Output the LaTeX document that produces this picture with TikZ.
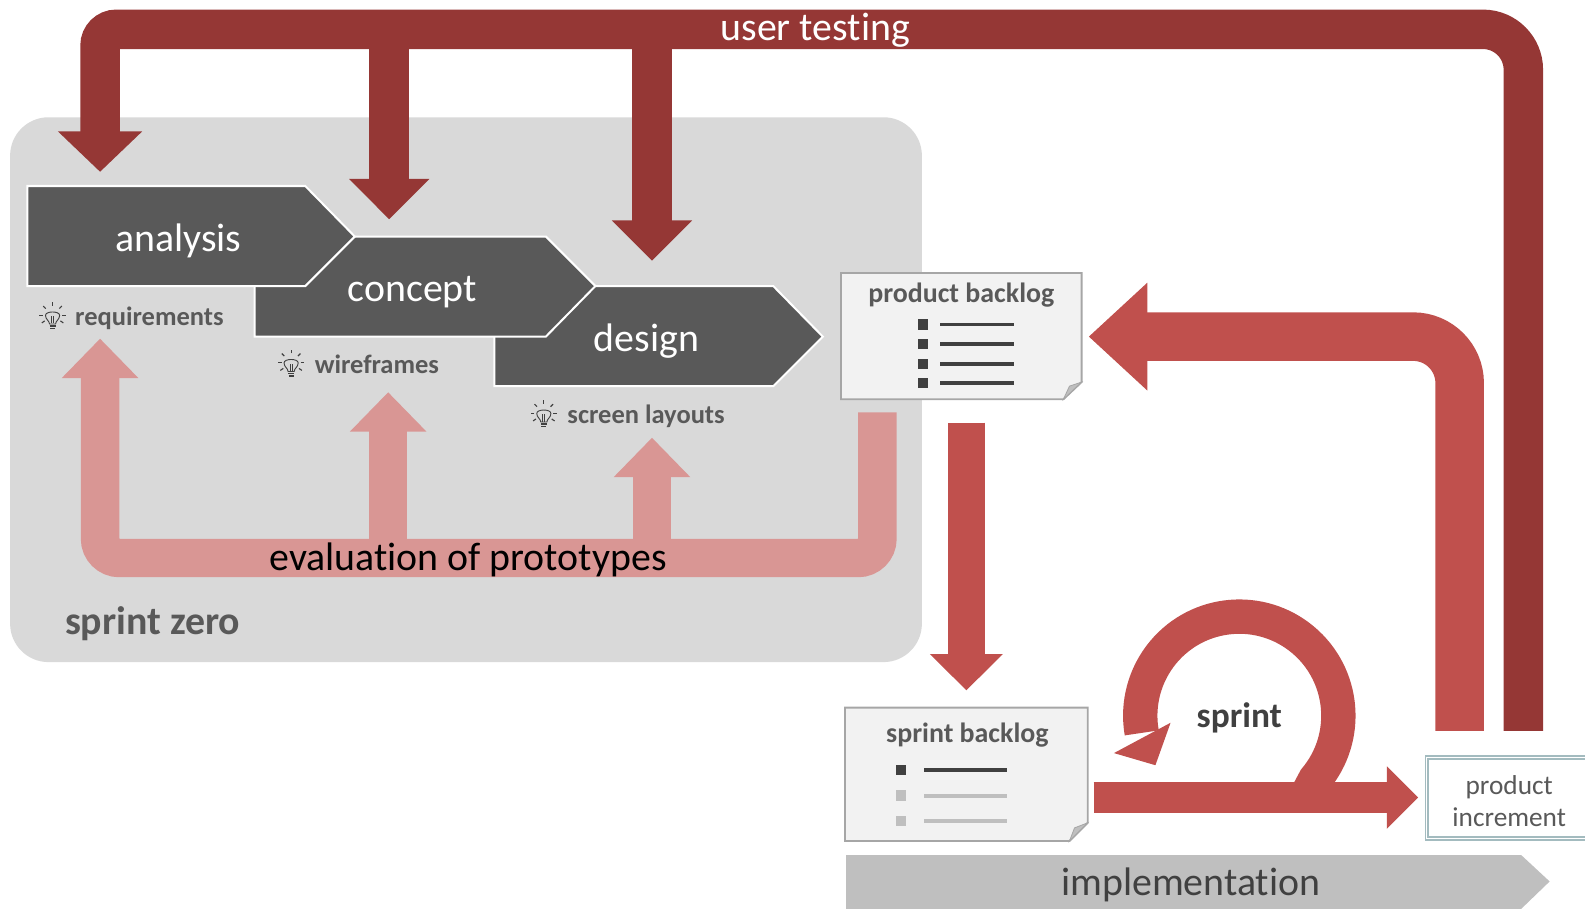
\documentclass[tikz,border=0pt]{standalone}
\usepackage{fontspec}
\setmainfont[Ligatures=NoCommon]{Carlito}
\usetikzlibrary{arrows.meta,calc}
\definecolor{dkred}{HTML}{953735}
\definecolor{midred}{HTML}{C0504D}
\definecolor{pinkred}{HTML}{D99694}
\definecolor{panelgray}{HTML}{D9D9D9}
\definecolor{chev}{HTML}{595959}
\definecolor{sheet}{HTML}{F2F2F2}
\definecolor{sheetedge}{HTML}{A6A6A6}
\definecolor{ink}{HTML}{404040}
\definecolor{faded}{HTML}{BFBFBF}
\definecolor{incedge}{HTML}{A3BBBF}
\tikzset{
  chevron/.style={fill=chev,draw=white,line width=1pt,line join=miter},
  chevtext/.style={anchor=base,text=white,font=\fontsize{19.7}{22}\selectfont,inner sep=0pt},
  note/.style={anchor=base west,text=chev,font=\fontsize{13.1}{15}\selectfont\bfseries,inner sep=0pt},
  doctitle/.style={anchor=base,text=chev,font=\fontsize{13.8}{16}\selectfont\bfseries,inner sep=0pt},
  bigtext/.style={anchor=base,font=\fontsize{19.7}{22}\selectfont,inner sep=0pt},
  sheetbox/.style={fill=sheet,draw=sheetedge,line width=0.9pt,line join=miter},
  sheetfold/.style={fill=faded,draw=sheetedge,line width=0.4pt},
  inctext/.style={anchor=base,text=chev,font=\fontsize{13.5}{16}\selectfont,inner sep=0pt},
  dkarrow/.style={draw=dkred,line width=19.5pt,-{Triangle[length=20pt,width=#1]}},
  dkarrow/.default=38.5pt,
  pkarrow/.style={draw=pinkred,line width=19pt,-{Triangle[length=19.5pt,width=36.7pt]}},
  bulletdark/.style={fill=ink},
  bulletfade/.style={fill=faded},
  bulb/.pic={
    \draw[ink,line width=0.45pt,fill=panelgray] (-3,4.5) .. controls (-3,1.5) and (-7,0) .. (-7,-4) .. controls (-7,-8.5) and (7,-8.5) .. (7,-4) .. controls (7,0) and (3,1.5) .. (3,4.5) -- cycle;
    \draw[ink,line width=0.35pt] (-1,4) -- (-1,-3) (1,4) -- (1,-3);
    \draw[ink,line width=0.7pt] (-3,6.5) -- (3,6.5) (-2.5,9) -- (2.5,9);
    \foreach \a in {-180,-135,-90,-45,0,145,35}{\draw[ink,line width=0.55pt] (0,-4)++(\a:9.5) -- ++(\a:3.5);}
  }
}
\begin{document}
\begin{tikzpicture}[x=0.5pt,y=-0.5pt]
\useasboundingbox (0,0) rectangle (1568,899);
\clip (0,0) rectangle (1568,899);
% panel
\fill[panelgray,rounded corners=19pt] (10,116) rectangle (912,655);
% coordinates for connectors
\coordinate (utstart) at (1507,723);
\coordinate (utcorner) at (1507,29);
\coordinate (utleft) at (99,29);
\coordinate (uttip) at (99,170);
\coordinate (ut2) at (385,29);
\coordinate (ut2tip) at (385,217);
\coordinate (ut3) at (645,29);
\coordinate (ut3tip) at (645,258);
\coordinate (evstart) at (868,408);
\coordinate (evcr) at (868,552);
\coordinate (evcl) at (99,552);
\coordinate (evtip) at (99,335);
\coordinate (ev2) at (384,552);
\coordinate (ev2tip) at (384,388);
\coordinate (ev3) at (645,552);
\coordinate (ev3tip) at (645,433);
\coordinate (fbstart) at (1444,723);
\coordinate (fbcorner) at (1444,333);
\coordinate (fbtip) at (1077,333);
\coordinate (sbstart) at (956,418);
\coordinate (sbtip) at (956,683);
\coordinate (impstart) at (1082,789);
\coordinate (imptip) at (1403,789);
\coordinate (loop) at (1226,708);
\coordinate (looptail) at (1291,790);
% chevrons
\draw[chevron] (489,283) -- (765,283) -- (814,333) -- (765,382) -- (489,382) -- cycle;
\draw[chevron] (252,234) -- (540,234) -- (589,283) -- (540,333) -- (252,333) -- cycle;
\draw[chevron] (27,184) -- (302,184) -- (351,234) -- (302,283) -- (27,283) -- cycle;
\node[chevtext] (analysis) at (176.5,248.5) {analysis};
\node[chevtext] (concept) at (408,298) {concept};
\node[chevtext] (design) at (639.5,347.5) {design};
% notes
\pic at (52,316) {bulb};
\pic at (288,363) {bulb};
\pic at (538,413) {bulb};
\node[note] (req) at (74,322) {requirements};
\node[note] (wire) at (311,369) {wireframes};
\node[note] (screen) at (561,419) {screen layouts};
% evaluation arrows
\draw[pkarrow,rounded corners=9.5pt] (evstart) -- (evcr) -- (evcl) -- (evtip);
\draw[pkarrow] (ev2) -- (ev2tip);
\draw[pkarrow] (ev3) -- (ev3tip);
\node[bigtext,text=black] (evaluation) at (463,564.5) {evaluation of prototypes};
\node[bigtext,text=chev,font=\fontsize{19.7}{22}\selectfont\bfseries] (zero) at (151,628) {sprint zero};
% user testing
\draw[dkarrow=40.5pt,rounded corners=20pt] (utstart) -- (utcorner) [rounded corners=8pt] -- (utleft) -- (uttip);
\draw[dkarrow] (ut2) -- (ut2tip);
\draw[dkarrow] (ut3) -- (ut3tip);
\node[bigtext,text=white] (testing) at (806.5,40) {user testing};
% product backlog
\draw[sheetbox] (832,270) -- (1070,270) -- (1070,378) -- (1052,395) -- (832,395) -- cycle;
\draw[sheetfold] (1052,395) -- (1058,382) -- (1070,378) -- cycle;
\node[doctitle] (pb) at (951,299) {product backlog};
\foreach \y in {321,340,360,379}{
  \fill[bulletdark] (908,\y-5) rectangle (918,\y+5);
  \fill[ink] (930,\y-1.8) rectangle (1003,\y+1.8);
}
% sprint backlog
\draw[sheetbox] (836,700) -- (1076,700) -- (1076,814) -- (1058,832) -- (836,832) -- cycle;
\draw[sheetfold] (1058,832) -- (1063,819) -- (1076,814) -- cycle;
\node[doctitle] (sb) at (957,735) {sprint backlog};
\fill[bulletdark] (886,757) rectangle (896,767);
\fill[ink] (914,760) rectangle (996,764);
\foreach \y in {787,812}{
  \fill[bulletfade] (886,\y-5) rectangle (896,\y+5);
  \fill[faded] (914,\y-2) rectangle (996,\y+2);
}
% feedback and backlog arrows
\draw[draw=midred,line width=24pt,-{Triangle[length=29pt,width=51.5pt]},rounded corners=23pt] (fbstart) -- (fbcorner) -- (fbtip);
\draw[draw=midred,line width=18pt,-{Triangle[length=18pt,width=35pt]}] (sbstart) -- (sbtip);
% sprint loop
\draw[midred,line width=17pt] (looptail) -- ($(loop)+(40:98)$) arc[start angle=40,end angle=-190,radius=98];
\fill[midred] (1102,745) -- (1143,757) -- (1158,715) -- cycle;
\draw[draw=midred,line width=15pt,-{Triangle[length=15.5pt,width=30pt]}] (impstart) -- (imptip);
\node[bigtext,text=ink,font=\fontsize{17.5}{20}\selectfont\bfseries] (sprint) at (1226,719.5) {sprint};
% increment
\draw[incedge,line width=0.9pt,double=white,double distance=0.4pt,fill=white] (1411.5,749.5) rectangle (1600,829.5);
\node[inctext] (prod) at (1493,785.5) {product};
\node[inctext] (incr) at (1493,817.5) {increment};
% implementation
\fill[faded] (837,846) -- (1505,846) -- (1533,872) -- (1505,899) -- (837,899) -- cycle;
\node[bigtext,text=ink] (impl) at (1178,886) {implementation};
\end{tikzpicture}
\end{document}
